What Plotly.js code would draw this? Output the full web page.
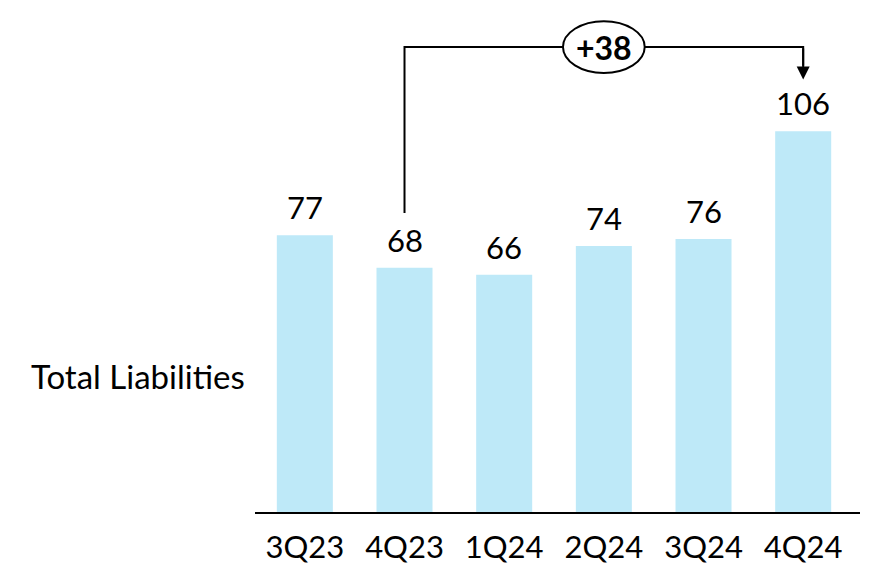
<!DOCTYPE html>
<html>
<head>
<meta charset="utf-8">
<script src="https://cdn.plot.ly/plotly-3.0.1.min.js"></script>
<style>html,body{margin:0;padding:0;background:#fff;}#chart{width:873px;height:576px;}</style>
</head>
<body>
<div id="chart"></div>
<script>
const categories = ['3Q23', '4Q23', '1Q24', '2Q24', '3Q24', '4Q24'];
const liabilities = [77, 68, 66, 74, 76, 106];
const seriesName = 'Total Liabilities';
const compareFrom = '4Q23';
const compareTo = '4Q24';

const FONT = 'Lato, "Open Sans", sans-serif';
const iFrom = categories.indexOf(compareFrom);
const iTo = categories.indexOf(compareTo);
const vFrom = liabilities[iFrom];
const vTo = liabilities[iTo];
const delta = vTo - vFrom;
const yMax = 142.5;
const bracketY = 129.4;
const labelGap = 15.2;

const trace = {
  type: 'bar',
  x: categories,
  y: liabilities,
  marker: {color: '#BEE9F8'},
  hoverinfo: 'none'
};

const annotations = categories.map((c, i) => ({
  x: c, y: liabilities[i], xref: 'x', yref: 'y',
  text: String(liabilities[i]), showarrow: false,
  yanchor: 'bottom', yshift: 7,
  font: {family: FONT, size: 31, color: '#000'}
}));

annotations.push({
  xref: 'paper', yref: 'y', x: 0, y: 37.8, xanchor: 'right', xshift: -8,
  text: seriesName, showarrow: false,
  font: {family: FONT, size: 33, color: '#000'}
});

annotations.push({
  xref: 'x', yref: 'y', x: (iFrom + iTo) / 2, y: bracketY,
  text: '<b>+' + delta + '</b>', showarrow: false,
  font: {family: FONT, size: 32, color: '#000'}
});

annotations.push({
  xref: 'x', yref: 'y', axref: 'x', ayref: 'y',
  x: iTo, y: vTo + labelGap - 0.8, ax: iTo, ay: bracketY,
  text: '', showarrow: true, arrowhead: 2, arrowsize: 1.3, arrowwidth: 2, arrowcolor: '#000'
});

const shapes = [
  {
    type: 'path', xref: 'x', yref: 'y',
    path: `M ${iFrom},${vFrom + labelGap} L ${iFrom},${bracketY} L ${iTo},${bracketY} L ${iTo},${vTo + labelGap + 3}`,
    line: {color: '#000', width: 2}
  },
  {
    type: 'circle', xref: 'x', yref: 'y',
    x0: (iFrom + iTo) / 2 - 0.41, x1: (iFrom + iTo) / 2 + 0.41,
    y0: bracketY - 7.2, y1: bracketY + 7.2,
    fillcolor: '#fff', line: {color: '#000', width: 2}, layer: 'above'
  }
];

const layout = {
  width: 873, height: 576,
  margin: {l: 255, r: 13, t: 0, b: 64},
  paper_bgcolor: '#fff', plot_bgcolor: '#fff',
  showlegend: false,
  bargap: 0.438,
  xaxis: {
    type: 'category', range: [-0.5, 5.57], showline: true, linecolor: '#000', linewidth: 2,
    ticks: '', showgrid: false, zeroline: false, fixedrange: true,
    tickfont: {family: FONT, size: 31, color: '#000'},
    ticklabelstandoff: 7
  },
  yaxis: {
    range: [0, yMax], visible: false, showgrid: false, zeroline: false, fixedrange: true
  },
  shapes: shapes,
  annotations: annotations
};

Plotly.newPlot('chart', [trace], layout, {staticPlot: true, displayModeBar: false});
</script>
</body>
</html>
